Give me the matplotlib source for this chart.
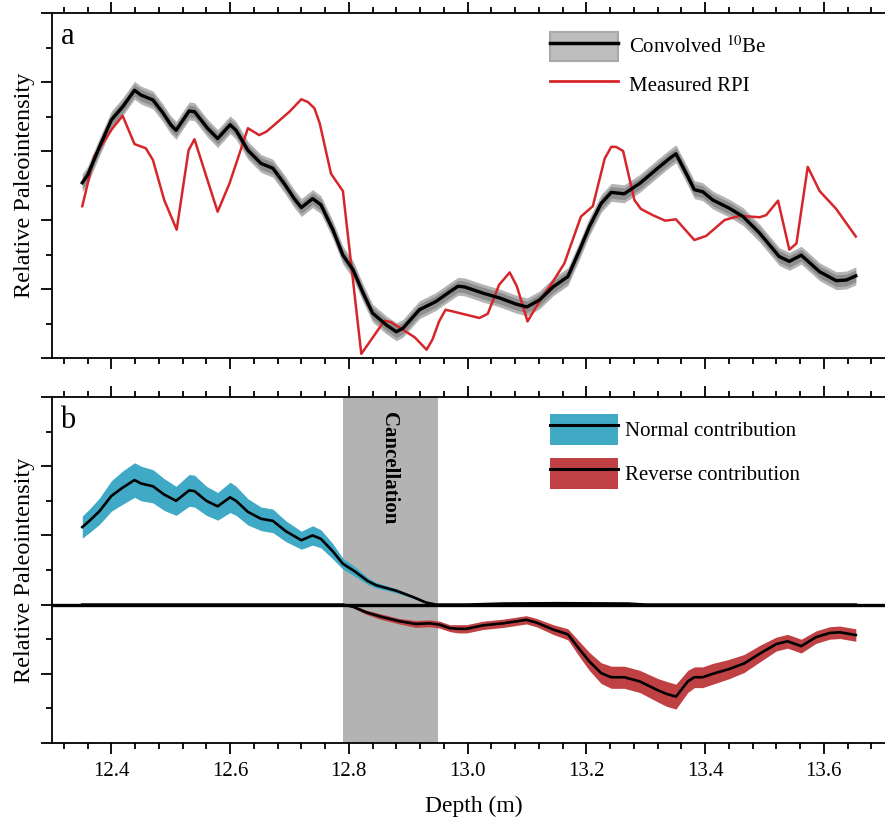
import numpy as np
import matplotlib
matplotlib.use('Agg')
import matplotlib.pyplot as plt
from matplotlib.patches import Patch
from matplotlib.lines import Line2D
from matplotlib.ticker import MultipleLocator, NullFormatter

plt.rcParams['font.family'] = ['Liberation Serif', 'DejaVu Serif']
plt.rcParams['mathtext.fontset'] = 'stix'

# panel a: convolved 10Be curve
conv_depth = [12.351, 12.36, 12.38, 12.40, 12.419, 12.439, 12.45, 12.47, 12.487, 12.50,
              12.509, 12.531, 12.54, 12.562, 12.579, 12.60, 12.61, 12.63, 12.652, 12.672,
              12.691, 12.708, 12.72, 12.739, 12.753, 12.773, 12.79, 12.807, 12.824, 12.84,
              12.863, 12.88, 12.891, 12.919, 12.947, 12.97, 12.984, 12.995, 13.026, 13.054,
              13.082, 13.10, 13.121, 13.144, 13.169, 13.189, 13.205, 13.225, 13.242, 13.264,
              13.29, 13.323, 13.34, 13.351, 13.368, 13.382, 13.396, 13.413, 13.441, 13.464,
              13.492, 13.525, 13.542, 13.562, 13.593, 13.621, 13.638, 13.654]
conv_val = [2.54, 2.65, 3.06, 3.45, 3.64, 3.88, 3.81, 3.74, 3.55, 3.38,
            3.30, 3.58, 3.57, 3.33, 3.18, 3.38, 3.30, 3.01, 2.82, 2.75,
            2.53, 2.31, 2.18, 2.31, 2.22, 1.86, 1.49, 1.28, 0.94, 0.65,
            0.48, 0.38, 0.43, 0.70, 0.82, 0.96, 1.04, 1.03, 0.94, 0.87,
            0.78, 0.74, 0.84, 1.03, 1.18, 1.57, 1.90, 2.24, 2.40, 2.38,
            2.53, 2.77, 2.89, 2.96, 2.68, 2.44, 2.41, 2.29, 2.17, 2.05,
            1.81, 1.47, 1.40, 1.49, 1.25, 1.12, 1.13, 1.19]
conv_err_outer = 0.13
conv_err_inner = 0.085

# panel a: measured RPI
rpi_depth = [12.351, 12.371, 12.402, 12.419, 12.439, 12.458, 12.47, 12.489, 12.51, 12.53,
             12.54, 12.56, 12.579, 12.599, 12.63, 12.649, 12.661, 12.672, 12.70, 12.72,
             12.731, 12.742, 12.751, 12.77, 12.79, 12.821, 12.86, 12.871, 12.891, 12.911,
             12.931, 12.941, 12.952, 12.963, 13.02, 13.034, 13.053, 13.071, 13.083, 13.101,
             13.121, 13.144, 13.163, 13.191, 13.211, 13.231, 13.242, 13.25, 13.262, 13.281,
             13.292, 13.312, 13.333, 13.351, 13.382, 13.402, 13.433, 13.458, 13.492, 13.503,
             13.523, 13.542, 13.554, 13.573, 13.593, 13.607, 13.621, 13.654]
rpi_val = [2.20, 2.92, 3.33, 3.51, 3.10, 3.04, 2.87, 2.29, 1.86, 3.01,
           3.17, 2.63, 2.12, 2.53, 3.33, 3.23, 3.28, 3.36, 3.57, 3.75,
           3.71, 3.62, 3.40, 2.67, 2.42, 0.06, 0.54, 0.52, 0.41, 0.30,
           0.12, 0.27, 0.53, 0.70, 0.58, 0.64, 1.06, 1.24, 1.04, 0.53,
           0.82, 1.11, 1.37, 2.05, 2.20, 2.89, 3.06, 3.06, 3.00, 2.29,
           2.16, 2.07, 1.99, 2.01, 1.71, 1.77, 2.00, 2.06, 2.04, 2.07,
           2.28, 1.57, 1.66, 2.77, 2.42, 2.29, 2.16, 1.76]

# panel b: normal contribution
norm_depth = [12.351, 12.363, 12.38, 12.40, 12.419, 12.439, 12.45, 12.47, 12.489, 12.509,
              12.531, 12.54, 12.56, 12.579, 12.60, 12.61, 12.63, 12.652, 12.672, 12.694,
              12.72, 12.739, 12.753, 12.773, 12.79, 12.81, 12.832, 12.846, 12.88, 12.908,
              12.93, 12.947, 13.0, 13.06, 13.15, 13.27, 13.3, 13.654]
norm_val = [1.12, 1.21, 1.35, 1.57, 1.69, 1.80, 1.75, 1.71, 1.59, 1.50,
            1.65, 1.64, 1.50, 1.42, 1.55, 1.50, 1.34, 1.24, 1.21, 1.06,
            0.93, 1.00, 0.95, 0.77, 0.59, 0.48, 0.34, 0.28, 0.20, 0.11,
            0.03, 0.0, 0.0, 0.015, 0.02, 0.015, 0.0, 0.0]
norm_err = [0.16, 0.17, 0.19, 0.22, 0.24, 0.25, 0.25, 0.24, 0.23, 0.21,
            0.23, 0.23, 0.21, 0.20, 0.22, 0.21, 0.19, 0.17, 0.17, 0.15,
            0.13, 0.14, 0.13, 0.11, 0.08, 0.07, 0.05, 0.04, 0.03, 0.02,
            0.01, 0.0, 0.0, 0.01, 0.01, 0.01, 0.0, 0.0]

# panel b: reverse contribution
rev_depth = [12.351, 12.79, 12.807, 12.829, 12.852, 12.885, 12.913, 12.936, 12.953, 12.97,
             12.984, 12.998, 13.026, 13.06, 13.099, 13.116, 13.144, 13.169, 13.189, 13.205,
             13.225, 13.242, 13.264, 13.29, 13.321, 13.335, 13.351, 13.371, 13.382, 13.396,
             13.413, 13.441, 13.466, 13.492, 13.52, 13.539, 13.562, 13.587, 13.61, 13.627,
             13.654]
rev_val = [0.0, 0.0, -0.03, -0.11, -0.17, -0.24, -0.28, -0.27, -0.29, -0.34,
           -0.35, -0.35, -0.30, -0.27, -0.22, -0.26, -0.36, -0.43, -0.65, -0.82,
           -0.99, -1.05, -1.05, -1.11, -1.24, -1.29, -1.33, -1.11, -1.05, -1.05,
           -1.00, -0.93, -0.85, -0.71, -0.57, -0.53, -0.60, -0.47, -0.41, -0.40,
           -0.44]
rev_err = [0.0, 0.0, 0.02, 0.03, 0.04, 0.04, 0.05, 0.05, 0.05, 0.05,
           0.06, 0.06, 0.06, 0.06, 0.06, 0.06, 0.07, 0.08, 0.11, 0.13,
           0.15, 0.16, 0.16, 0.16, 0.17, 0.18, 0.18, 0.16, 0.15, 0.15,
           0.15, 0.14, 0.13, 0.12, 0.10, 0.10, 0.10, 0.09, 0.09, 0.09,
           0.09]

cancel_range = (12.79, 12.95)

blue = '#3fa9c6'
red_fill = '#bf4144'
red_line = '#d7262b'

fig = plt.figure(figsize=(8.85, 8.19), dpi=100)
ax1 = fig.add_axes([52/885, 1 - 358/819, 843/885, 345/819])
ax2 = fig.add_axes([52/885, 1 - 743/819, 843/885, 346/819])

for ax in (ax1, ax2):
    ax.set_xlim(12.3, 13.72)
    ax.xaxis.set_major_locator(MultipleLocator(0.2))
    ax.xaxis.set_minor_locator(MultipleLocator(0.04))
    ax.yaxis.set_major_locator(MultipleLocator(1))
    ax.yaxis.set_minor_locator(MultipleLocator(0.5))
    ax.yaxis.set_major_formatter(NullFormatter())
    ax.tick_params(which='both', direction='out', top=True, bottom=True, right=False, width=1.3)
    ax.tick_params(which='major', length=8)
    ax.tick_params(which='minor', length=4)
    ax.spines['right'].set_visible(False)
    for s in ('left', 'top', 'bottom'):
        ax.spines[s].set_linewidth(1.3)
    ax.set_ylabel('Relative Paleointensity', fontsize=17.5, labelpad=1)

ax1.set_ylim(0, 5)
ax1.xaxis.set_major_formatter(NullFormatter())
ax2.set_ylim(-2, 3)

# panel a
cd = np.array(conv_depth)
cv = np.array(conv_val)
ax1.fill_between(cd, cv - conv_err_outer, cv + conv_err_outer, color='#b4b4b4', lw=0, zorder=1)
ax1.fill_between(cd, cv - conv_err_inner, cv + conv_err_inner, color='#8e8e8e', lw=0, zorder=1)
ax1.plot(cd, cv, color='black', lw=2.4, zorder=3)
ax1.plot(rpi_depth, rpi_val, color=red_line, lw=1.8, zorder=2)

h_conv = (Patch(facecolor='#bdbdbd', edgecolor='#a9a9a9', lw=1.5), Line2D([], [], color='black', lw=2.5))
h_rpi = Line2D([], [], color=red_line, lw=2)
ax1.legend([h_conv, h_rpi], ['Convolved $^{10}$Be', 'Measured RPI'],
           loc='upper left', bbox_to_anchor=(0.591, 0.945), frameon=False, fontsize=15,
           borderpad=0, borderaxespad=0, handlelength=3.25, handleheight=1.8,
           handletextpad=0.55, labelspacing=0.4)
ax1.text(0.01, 0.975, 'a', transform=ax1.transAxes, fontsize=22, va='top', ha='left')

# panel b
ax2.axvspan(*cancel_range, color='#b3b3b3', lw=0, zorder=0)
ax2.text(np.mean(cancel_range) - 0.003, 2.78, 'Cancellation', rotation=-90, fontsize=15,
         fontweight='bold', ha='center', va='top', zorder=5)

nd = np.array(norm_depth)
nv = np.array(norm_val)
ne = np.array(norm_err)
rd = np.array(rev_depth)
rv = np.array(rev_val)
re_ = np.array(rev_err)
ax2.fill_between(nd, nv - ne, nv + ne, color=blue, lw=0, zorder=1)
ax2.fill_between(rd, rv - re_, rv + re_, color=red_fill, lw=0, zorder=1)
ax2.plot(nd, nv, color='black', lw=1.9, zorder=3)
ax2.plot(rd, rv, color='black', lw=1.9, zorder=3)
ax2.axhline(0, color='black', lw=2.4, zorder=4)

h_norm = (Patch(facecolor=blue, edgecolor='none'), Line2D([], [], color='black', lw=2.2))
h_rev = (Patch(facecolor=red_fill, edgecolor='none'), Line2D([], [], color='black', lw=2.2))
ax2.legend([h_norm, h_rev], ['Normal contribution', 'Reverse contribution'],
           loc='upper left', bbox_to_anchor=(0.591, 0.95), frameon=False, fontsize=15,
           borderpad=0, borderaxespad=0, handlelength=3.25, handleheight=1.9,
           handletextpad=0.35, labelspacing=0.62)
ax2.text(0.01, 0.975, 'b', transform=ax2.transAxes, fontsize=22, va='top', ha='left')

ax2.tick_params(axis='x', which='major', labelsize=15, pad=6)
ax2.set_xlabel('Depth (m)', fontsize=17, labelpad=10)

fig.savefig('out.png', dpi=100)
